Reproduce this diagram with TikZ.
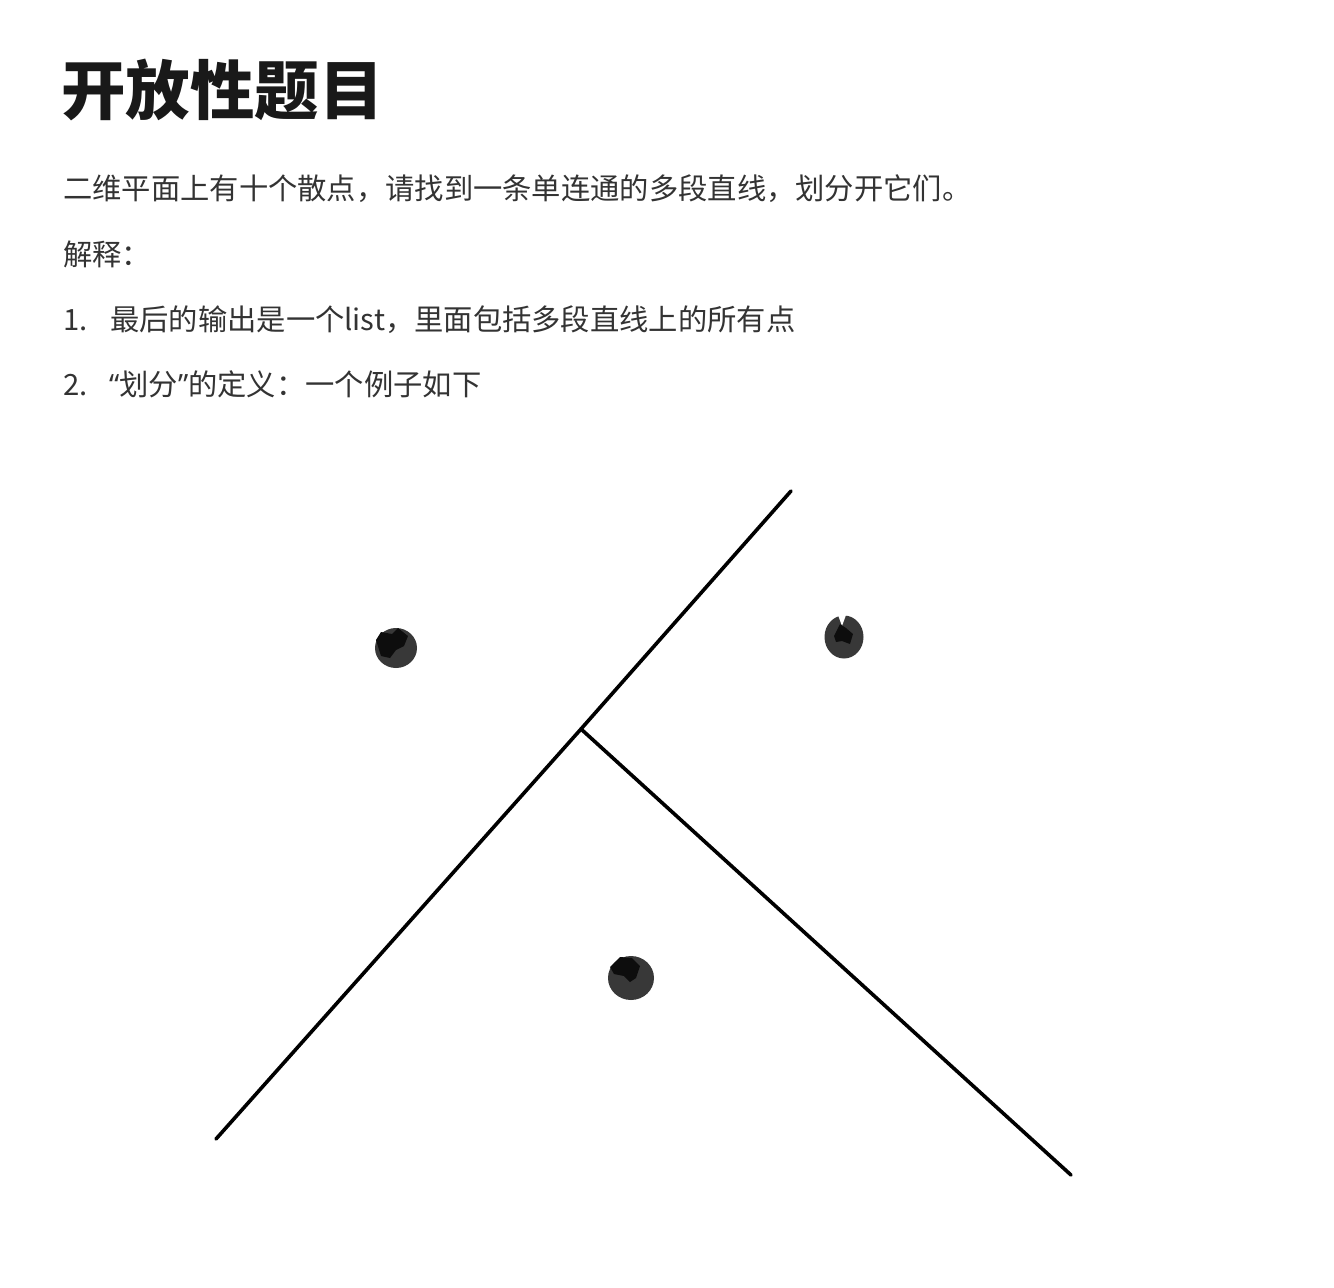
\documentclass[tikz,border=0pt]{standalone}
\usepackage{fontspec}
\usetikzlibrary{shapes.geometric}
\setmainfont{Noto Sans CJK SC}
\newfontfamily\quotefont{Open Sans}
\begin{document}
\begin{tikzpicture}[x=1pt,y=-1pt,
  txt/.style={anchor=base west,inner sep=0pt,text=black!80,font=\fontsize{29.3}{29.3}\selectfont},
  ttl/.style={anchor=base west,inner sep=0pt,text=black!90,font=\fontsize{64.5}{64.5}\selectfont\bfseries},
  stroke/.style={line width=3.6pt,line cap=round,line join=round,black},
  blob/.style={fill=black!78,draw=none,ellipse,inner sep=0pt},
  scribble/.style={fill=black!95,draw=none}]
\useasboundingbox (0,0) rectangle (1334,1288);
\fill[white] (0,0) rectangle (1334,1288);
% texts
\node[ttl] (title) at (61,114) {开放性题目};
\node[txt] (l1) at (63,199) {二维平面上有十个散点，请找到一条单连通的多段直线，划分开它们。};
\node[txt] (l2) at (63,265) {解释：};
\node[txt] (n1) at (63,330) {1.};
\node[txt] (t1) at (110,330) {最后的输出是一个list，里面包括多段直线上的所有点};
\node[txt] (n2) at (63,395) {2.};
\node[txt] (t2) at (109,395) {{\quotefont “}划分{\quotefont ”}的定义：一个例子如下};
% polyline
\coordinate (a) at (216,1139);
\coordinate (j) at (581,729);
\coordinate (b) at (791,491);
\coordinate (c) at (1071,1175);
\draw[stroke] (a) -- (j) -- (b);
\draw[stroke] (j) -- (c);
% dots
\node[blob,minimum width=42pt,minimum height=40pt] (p1) at (396,648) {};
\fill[scribble] (376,640) -- (381,632) -- (392,634) -- (398,628) -- (408,636) -- (404,646) -- (396,650) -- (390,658) -- (381,656) -- cycle;
\node[blob,minimum width=39pt,minimum height=43pt] (p2) at (844,637) {};
\fill[white] (838,615) -- (842,626) -- (846,615) -- cycle;
\fill[scribble] (834,636) -- (840,624) -- (846,628) -- (853,634) -- (850,644) -- (842,641) -- (836,642) -- cycle;
\node[blob,minimum width=46pt,minimum height=44pt] (p3) at (631,978) {};
\fill[scribble] (610,967) -- (620,957) -- (632,958) -- (640,966) -- (636,978) -- (630,982) -- (624,976) -- (614,974) -- cycle;
\end{tikzpicture}
\end{document}
